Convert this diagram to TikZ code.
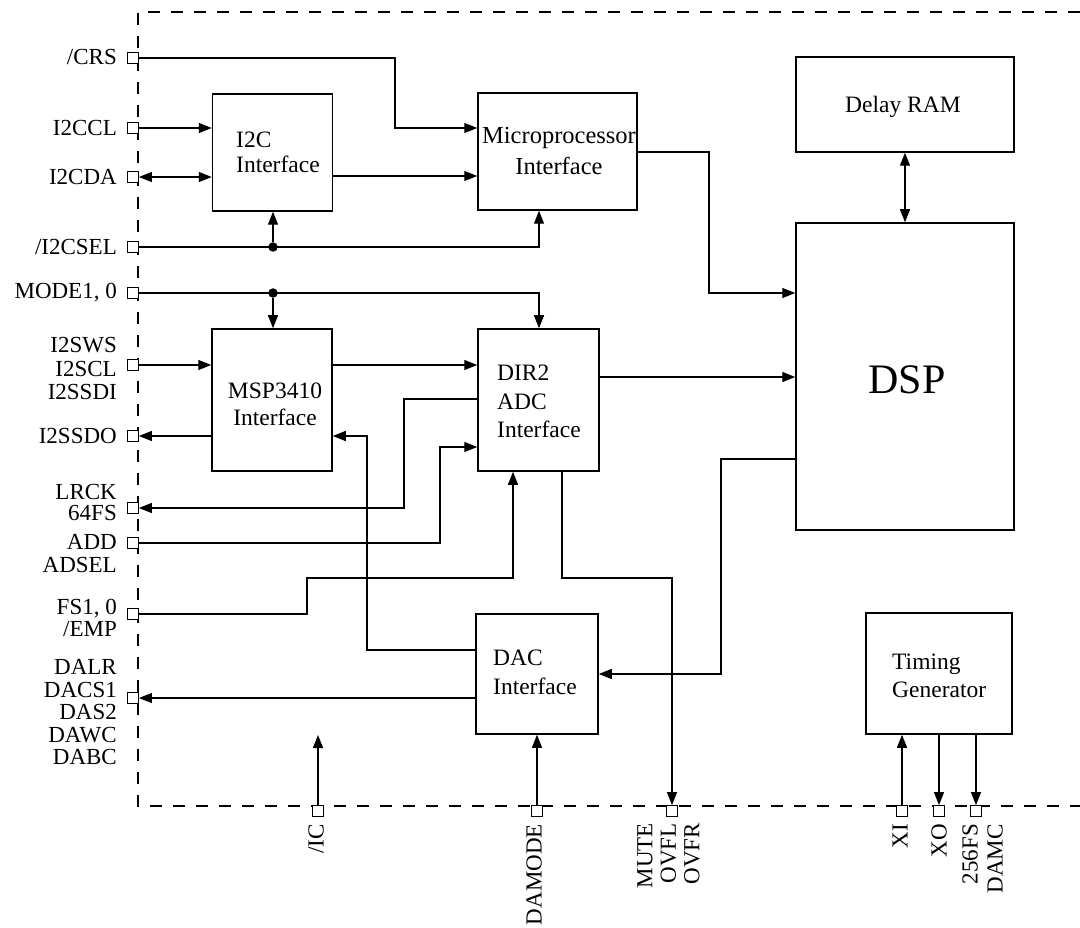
\documentclass[tikz,border=0pt]{standalone}
\usepackage{fontspec}
\setmainfont{Liberation Serif}
\usetikzlibrary{arrows.meta,calc}
\tikzset{
  blk/.style={draw, line width=1.5pt, inner sep=0pt},
  wire/.style={line width=1.3pt},
  arr/.style={wire, -{Triangle[length=13pt,width=10pt]}},
  darr/.style={wire, {Triangle[length=13pt,width=10pt]}-{Triangle[length=13pt,width=10pt]}},
  pinsq/.style={draw, fill=white, line width=1.3pt, minimum size=10.5pt, inner sep=0pt},
  lbl/.style={font=\fontsize{23}{22.5}\selectfont, inner sep=0pt, align=right},
  btxt/.style={inner sep=0pt},
  jdot/.style={circle, fill, minimum size=9.5pt, inner sep=0pt},
  border/.style={dash pattern=on 12pt off 11pt, line width=1.3pt},
}
\begin{document}
\begin{tikzpicture}[x=1pt,y=-1pt]
\useasboundingbox (0,0) rectangle (1080,928);
% chip boundary
\draw[border] (1080,12) -- (138,12) -- (138,806) -- (1080,806);

% blocks
\node[blk, minimum width=120pt, minimum height=117pt] (i2c) at (272.5,152.5) {};
\node[blk, minimum width=159pt, minimum height=117pt] (micro) at (557.5,151.5) {};
\node[blk, minimum width=120pt, minimum height=142pt] (msp) at (272,400) {};
\node[blk, minimum width=121pt, minimum height=142pt] (dir) at (538.5,400) {};
\node[blk, minimum width=122pt, minimum height=120pt] (dac) at (537,674) {};
\node[blk, minimum width=218pt, minimum height=95pt] (ram) at (905,104.5) {};
\node[blk, minimum width=218pt, minimum height=307pt] (dsp) at (905,376.5) {};
\node[blk, minimum width=146pt, minimum height=121pt] (tim) at (939,673.5) {};

% block texts
\node[btxt, anchor=west, align=left, font=\fontsize{23.5}{25}\selectfont] (ti2c) at (236,152.5) {I2C\\Interface};
\node[btxt, align=center, font=\fontsize{24.5}{31}\selectfont] (tmicro) at (559,151.5) {Microprocessor\\Interface};
\node[btxt, align=center, font=\fontsize{23.5}{27}\selectfont] (tmsp) at (275,404.5) {MSP3410\\Interface};
\node[btxt, anchor=west, align=left, font=\fontsize{23.5}{28.5}\selectfont] (tdir) at (497,401.5) {DIR2\\ADC\\Interface};
\node[btxt, anchor=west, align=left, font=\fontsize{23.5}{29}\selectfont] (tdac) at (493,672.5) {DAC\\Interface};
\node[btxt, anchor=west, align=left, font=\fontsize{23.5}{28}\selectfont] (ttim) at (892,676) {Timing\\Generator};
\node[btxt, font=\fontsize{23.5}{28}\selectfont] (tram) at (903,107) {Delay RAM};
\node[btxt, font=\fontsize{42}{48}\selectfont] (tdsp) at (907,380) {DSP};

% left pins
\node[pinsq] (pCRS) at (133,58) {};
\node[pinsq] (pCCL) at (133,128) {};
\node[pinsq] (pCDA) at (133,177) {};
\node[pinsq] (pSEL) at (133,247) {};
\node[pinsq] (pMODE) at (133,293) {};
\node[pinsq] (pSCL) at (133,365) {};
\node[pinsq] (pSDO) at (133,436) {};
\node[pinsq] (pLRCK) at (133,508) {};
\node[pinsq] (pADD) at (133,543) {};
\node[pinsq] (pFS) at (133,614) {};
\node[pinsq] (pDACS) at (133,698) {};

% left pin labels
\node[lbl, anchor=east] (lCRS) at (117,57.5) {/CRS};
\node[lbl, anchor=east] (lCCL) at (117,128) {I2CCL};
\node[lbl, anchor=east] (lCDA) at (117,177) {I2CDA};
\node[lbl, anchor=east] (lSEL) at (117,247) {/I2CSEL};
\node[lbl, anchor=east] (lMODE) at (117,293) {MODE1, 0};
\node[lbl, anchor=east, font=\fontsize{23}{23.5}\selectfont] (lSCL) at (117,368.5) {I2SWS\\I2SCL\\I2SSDI};
\node[lbl, anchor=east] (lSDO) at (117,436) {I2SSDO};
\node[lbl, anchor=east, font=\fontsize{23}{21}\selectfont] (lLRCK) at (117,502) {LRCK\\64FS};
\node[lbl, anchor=east, font=\fontsize{23}{23}\selectfont] (lADD) at (117,554) {ADD\\ADSEL};
\node[lbl, anchor=east, font=\fontsize{23}{22}\selectfont] (lFS) at (117,618) {FS1, 0\\/EMP};
\node[lbl, anchor=east] (lDACS) at (117,712.5) {DALR\\DACS1\\DAS2\\DAWC\\DABC};

% bottom pins
\node[pinsq] (pIC) at (318,811) {};
\node[pinsq] (pDAM) at (537,811) {};
\node[pinsq] (pMUTE) at (672,811) {};
\node[pinsq] (pXI) at (902,811) {};
\node[pinsq] (pXO) at (939,811) {};
\node[pinsq] (pFS256) at (976,811) {};

% bottom pin labels
\node[lbl, rotate=90, anchor=east] (lIC) at (316,824) {/IC};
\node[lbl, rotate=90, anchor=east] (lDAM) at (534,824) {DAMODE};
\node[lbl, rotate=90, anchor=east, font=\fontsize{23}{23.5}\selectfont] (lMUTE) at (668.5,823) {MUTE\\OVFL\\OVFR};
\node[lbl, rotate=90, anchor=east] (lXI) at (900,824) {XI};
\node[lbl, rotate=90, anchor=east] (lXO) at (939,824) {XO};
\node[lbl, rotate=90, anchor=east, font=\fontsize{23}{25}\selectfont] (l256) at (982.5,824) {256FS\\DAMC};

% junction dots
\node[jdot] (d1) at (273,247) {};
\node[jdot] (d2) at (273,293) {};
\coordinate (cIC) at (318,735);

% connectors
\draw[arr] (pCRS.east) -| (395,128) -- (micro.west |- 0,128);
\draw[arr] (pCCL.east) -- (pCCL.east -| i2c.west);
\draw[darr] (pCDA.east) -- (pCDA.east -| i2c.west);
\draw[arr] (i2c.east |- 0,176) -- (micro.west |- 0,176);
\draw[arr] (pSEL.east) -| (539,0 |- micro.south);
\draw[arr] (d1) -- (d1 |- i2c.south);
\draw[arr] (pMODE.east) -| (539,0 |- dir.north);
\draw[arr] (d2) -- (d2 |- msp.north);
\draw[arr] (pSCL.east) -- (pSCL.east -| msp.west);
\draw[arr] (msp.east |- 0,365) -- (dir.west |- 0,365);
\draw[arr] (msp.west |- 0,436) -- (pSDO.east);
\draw[arr] (dir.west |- 0,399) -| (404,508) -- (pLRCK.east);
\draw[arr] (pADD.east) -| (440,447) -- (dir.west |- 0,447);
\draw[arr] (pFS.east) -| (307,578) -| (513,0 |- dir.south);
\draw[arr] (dac.west |- 0,650) -| (367,436) -- (msp.east |- 0,436);
\draw[arr] (dac.west |- 0,698) -- (pDACS.east);
\draw[arr] (dir.east |- 0,377) -- (dsp.west |- 0,377);
\draw[arr] (micro.east |- 0,152) -| (709,293) -- (dsp.west |- 0,293);
\draw[arr] (dsp.west |- 0,459) -| (721,674) -- (dac.east |- 0,674);
\draw[darr] (ram.south) -- (dsp.north);
\draw[arr] (pIC.north) -- (cIC);
\draw[arr] (pDAM.north) -- (pDAM.north |- dac.south);
\draw[arr] (562,0 |- dir.south) |- (672,578) -- (pMUTE.north);
\draw[arr] (pXI.north) -- (pXI.north |- tim.south);
\draw[arr] (pXO.north |- tim.south) -- (pXO.north);
\draw[arr] (pFS256.north |- tim.south) -- (pFS256.north);
\end{tikzpicture}
\end{document}
